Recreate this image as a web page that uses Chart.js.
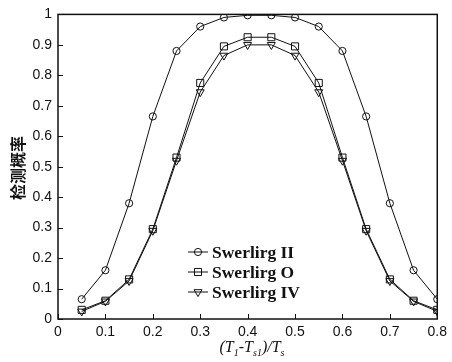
<!DOCTYPE html>
<html>
<head>
<meta charset="utf-8">
<script src="https://cdn.jsdelivr.net/npm/chart.js@4.4.1/dist/chart.umd.min.js"></script>
<style>
  html, body { margin: 0; padding: 0; background: #fff; }
  #wrap { width: 452px; height: 362px; }
</style>
</head>
<body>
<div id="wrap"><canvas id="myChart" width="452" height="362"></canvas></div>
<script>
// data
const xVals = [0.05, 0.1, 0.15, 0.2, 0.25, 0.3, 0.35, 0.4, 0.45, 0.5, 0.55, 0.6, 0.65, 0.7, 0.75, 0.8]
const swerling2 = [0.065, 0.16, 0.38, 0.665, 0.88, 0.96, 0.99, 0.997, 0.997, 0.99, 0.96, 0.88, 0.665, 0.38, 0.16, 0.065]
const swerling0 = [0.03, 0.06, 0.13, 0.295, 0.53, 0.775, 0.895, 0.925, 0.925, 0.895, 0.775, 0.53, 0.295, 0.13, 0.06, 0.03]
const swerling4 = [0.025, 0.058, 0.125, 0.29, 0.52, 0.745, 0.865, 0.9, 0.9, 0.865, 0.745, 0.52, 0.29, 0.125, 0.058, 0.025]
const seriesNames = ['Swerlirg II', 'Swerlirg O', 'Swerlirg IV']
const yTitle = '检测概率'

function pts(ys) {
    return ys.map((y, i) => ({ x: xVals[i], y: y }))
}

const markers = [
    { style: 'circle', radius: 3.6, rotation: 0 },
    { style: 'rect', radius: 5, rotation: 0 },
    { style: 'triangle', radius: 4.6, rotation: 180 }
]

function makeSet(name, ys, m) {
    return {
        label: name,
        data: pts(ys),
        borderColor: '#111',
        borderWidth: 1,
        backgroundColor: 'rgba(0,0,0,0)',
        pointStyle: m.style,
        pointRadius: m.radius,
        pointRotation: m.rotation,
        pointBorderColor: '#111',
        pointBorderWidth: 1,
        tension: 0
    }
}

// frame, inward ticks, legend and x title
const extras = {
    id: 'extras',
    afterDraw(chart) {
        const ctx = chart.ctx
        const a = chart.chartArea
        const xs = chart.scales.x, ys = chart.scales.y
        ctx.save()
        ctx.strokeStyle = '#111'
        ctx.lineWidth = 1.5
        ctx.strokeRect(a.left, a.top, a.right - a.left, a.bottom - a.top)
        ctx.lineWidth = 1
        ctx.beginPath()
        xs.ticks.forEach(t => {
            const px = Math.round(xs.getPixelForValue(t.value)) + 0.5
            ctx.moveTo(px, a.bottom); ctx.lineTo(px, a.bottom - 5)
        })
        ys.ticks.forEach(t => {
            const py = Math.round(ys.getPixelForValue(t.value)) + 0.5
            ctx.moveTo(a.left, py); ctx.lineTo(a.left + 5, py)
        })
        ctx.stroke()

        // legend
        ctx.textBaseline = 'middle'
        ctx.textAlign = 'left'
        chart.data.datasets.forEach((ds, i) => {
            const ly = 252 + i * 20
            ctx.beginPath()
            ctx.moveTo(188, ly); ctx.lineTo(208, ly)
            ctx.stroke()
            ctx.fillStyle = 'rgba(0,0,0,0)'
            Chart.helpers.drawPoint(ctx, {
                pointStyle: ds.pointStyle, radius: ds.pointRadius,
                rotation: ds.pointRotation, borderWidth: 1
            }, 198, ly)
            ctx.fillStyle = '#111'
            ctx.font = 'bold 17.5px "Liberation Serif"'
            ctx.fillText(ds.label, 212, ly + 1)
        })

        // x title with subscripts
        const parts = [
            ['(T', 16, 0], ['1', 10, 4], ['-T', 16, 0], ['s1', 10, 4], [')/T', 16, 0], ['s', 10, 4]
        ]
        let w = 0
        parts.forEach(p => { ctx.font = 'italic ' + p[1] + 'px "Liberation Serif"'; w += ctx.measureText(p[0]).width })
        let x = 252 - w / 2
        ctx.textBaseline = 'alphabetic'
        parts.forEach(p => {
            ctx.font = 'italic ' + p[1] + 'px "Liberation Serif"'
            ctx.fillText(p[0], x, 352 + p[2])
            x += ctx.measureText(p[0]).width
        })

        // y title
        ctx.translate(18, 168)
        ctx.rotate(-Math.PI / 2)
        ctx.textAlign = 'center'
        ctx.textBaseline = 'middle'
        ctx.font = 'bold 16px "Noto Sans CJK SC"'
        ctx.fillText(yTitle, 0, 0)
        ctx.restore()
    }
}

const ctx = document.getElementById('myChart')

const myChart = new Chart(ctx, {
    type: 'line',
    data: {
        datasets: [
            makeSet(seriesNames[0], swerling2, markers[0]),
            makeSet(seriesNames[1], swerling0, markers[1]),
            makeSet(seriesNames[2], swerling4, markers[2])
        ]
    },
    options: {
        responsive: false,
        animation: false,
        layout: { padding: { left: 0, top: 12, right: 9, bottom: 0 } },
        plugins: { legend: { display: false }, tooltip: { enabled: false } },
        scales: {
            x: {
                type: 'linear', min: 0, max: 0.8,
                grid: { display: false, drawTicks: false },
                border: { display: false },
                afterFit: s => { s.height = 43 },
                ticks: {
                    stepSize: 0.1, padding: 5, color: '#111',
                    font: { family: '"Liberation Sans"', size: 14 },
                    callback: v => String(Math.round(v * 10) / 10)
                }
            },
            y: {
                min: 0, max: 1,
                grid: { display: false, drawTicks: false },
                border: { display: false },
                afterFit: s => { s.width = 58 },
                ticks: {
                    stepSize: 0.1, padding: 6, color: '#111',
                    font: { family: '"Liberation Sans"', size: 14 },
                    callback: v => String(Math.round(v * 10) / 10)
                }
            }
        }
    },
    plugins: [extras]
})
</script>
</body>
</html>
